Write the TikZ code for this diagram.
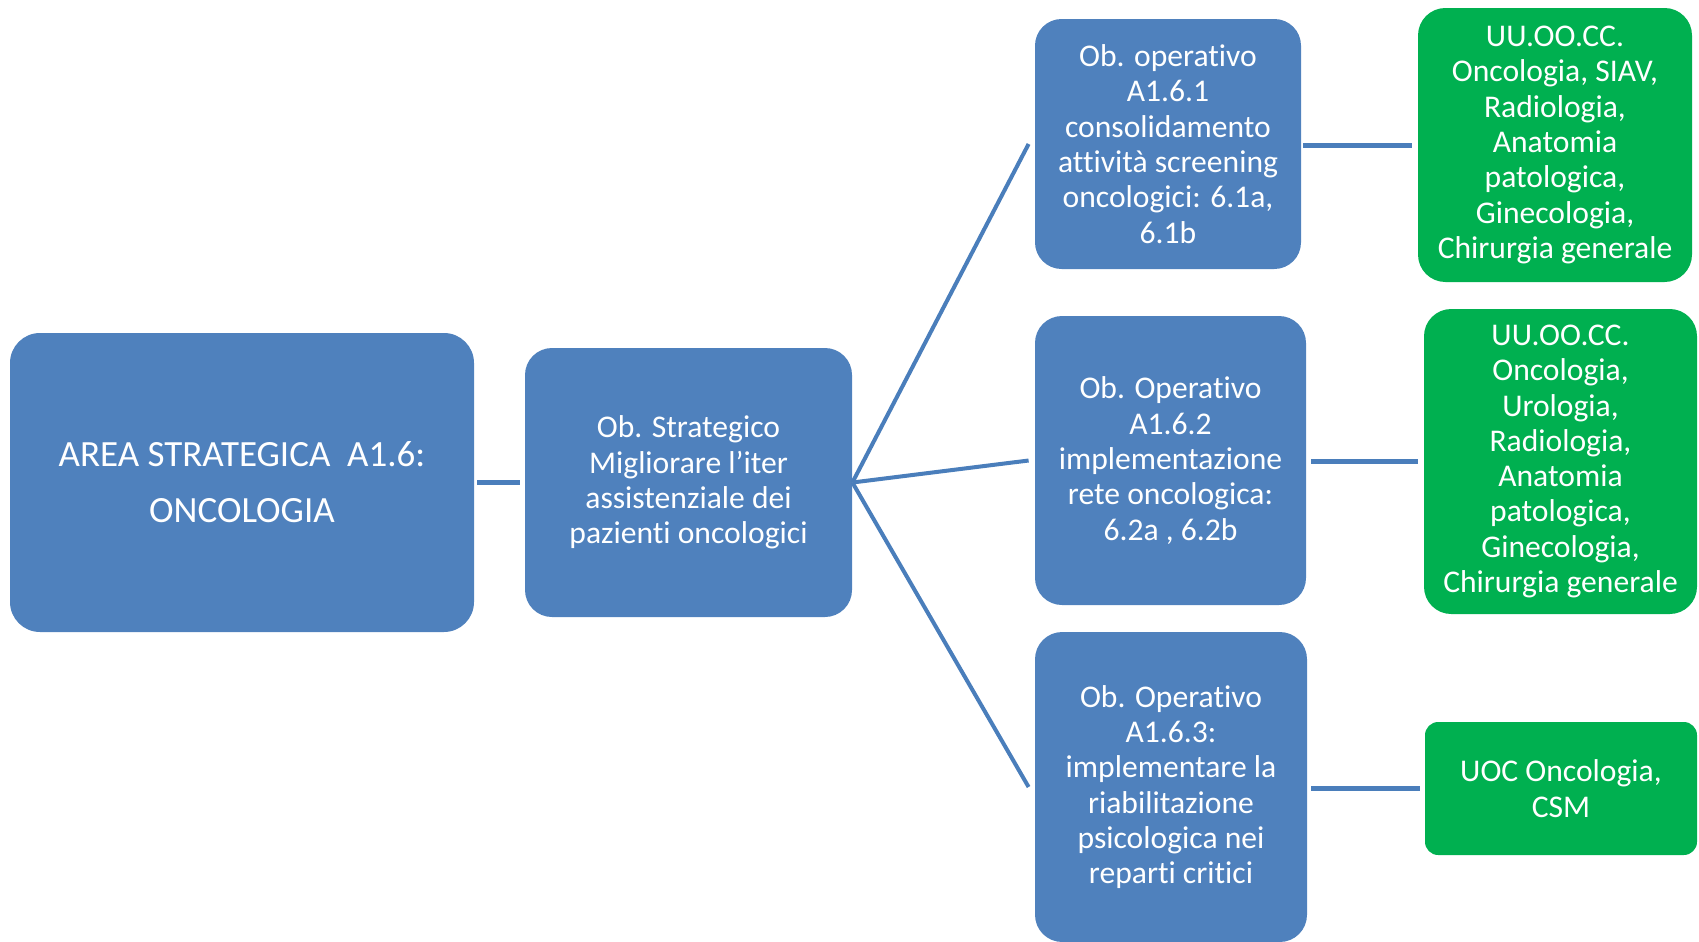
\documentclass[tikz,border=0pt]{standalone}
\usepackage{fontspec}
\setmainfont{Carlito}[Ligatures=NoCommon]
\definecolor{boxblue}{HTML}{4F81BD}
\definecolor{boxgreen}{HTML}{00B050}
\definecolor{linkblue}{HTML}{4A7EBB}
\begin{document}
\begin{tikzpicture}[x=0.5pt,y=-0.5pt,
  box/.style={text=white, align=center, inner sep=0pt,
    font=\fontsize{15.8}{17.65}\selectfont},
  bluebox/.style={box, fill=boxblue},
  greenbox/.style={box, fill=boxgreen},
  link/.style={draw=linkblue, line width=2.5pt},
  fan/.style={draw=linkblue, line width=2pt},
]
\useasboundingbox (0,0) rectangle (1699,942);
\clip (0,0) rectangle (1699,942);

% strategic area and objective
\node[bluebox, rounded corners=15pt, minimum width=232pt, minimum height=149.5pt,
  font=\fontsize{18.5}{28}\selectfont] (area) at (242,482.5)
  {AREA STRATEGICA\ \ A1.6:\\ONCOLOGIA};
\node[bluebox, rounded corners=13.5pt, minimum width=163.5pt, minimum height=134.5pt] (strat) at (688.5,482.5)
  {Ob. Strategico\\Migliorare l’iter\\assistenziale dei\\pazienti oncologici};

% operative objectives
\node[bluebox, rounded corners=13.3pt, minimum width=133pt, minimum height=125pt] (op1) at (1168,144)
  {Ob. operativo\\A1.6.1\\consolidamento\\attività screening\\oncologici: 6.1a,\\6.1b};
\node[bluebox, rounded corners=13.5pt, minimum width=135.5pt, minimum height=144.5pt] (op2) at (1170.5,460.5)
  {Ob. Operativo\\A1.6.2\\implementazione\\rete oncologica:\\6.2a , 6.2b};
\node[bluebox, rounded corners=13.6pt, minimum width=136pt, minimum height=155pt] (op3) at (1171,787)
  {Ob. Operativo\\A1.6.3:\\implementare la\\riabilitazione\\psicologica nei\\reparti critici};

% responsible units
\node[greenbox, rounded corners=13.7pt, minimum width=137pt, minimum height=137pt] (uo1) at (1555,145)
  {UU.OO.CC.\\Oncologia, SIAV,\\Radiologia,\\Anatomia\\patologica,\\Ginecologia,\\Chirurgia generale};
\node[greenbox, rounded corners=13.6pt, minimum width=136.5pt, minimum height=152.5pt] (uo2) at (1560.5,461.5)
  {UU.OO.CC.\\Oncologia,\\Urologia,\\Radiologia,\\Anatomia\\patologica,\\Ginecologia,\\Chirurgia generale};
\node[greenbox, rounded corners=6.6pt, minimum width=136pt, minimum height=66.5pt] (uo3) at (1561,788.5)
  {UOC Oncologia,\\CSM};

% connectors
\draw[link, shorten <=1.5pt, shorten >=2.5pt] (area.east) -- (strat.west);
\draw[fan] (strat.east) -- ([xshift=-3pt]op1.west);
\draw[fan] (strat.east) -- ([xshift=-3pt]op2.west);
\draw[fan] (strat.east) -- ([xshift=-3pt]op3.west);
\draw[link, shorten <=1pt, shorten >=3pt] (op1.east |- uo1.west) -- (uo1.west);
\draw[link, shorten <=2.5pt, shorten >=3pt] (op2.east |- uo2.west) -- (uo2.west);
\draw[link, shorten <=2pt, shorten >=2.5pt] (op3.east |- uo3.west) -- (uo3.west);
\end{tikzpicture}
\end{document}
